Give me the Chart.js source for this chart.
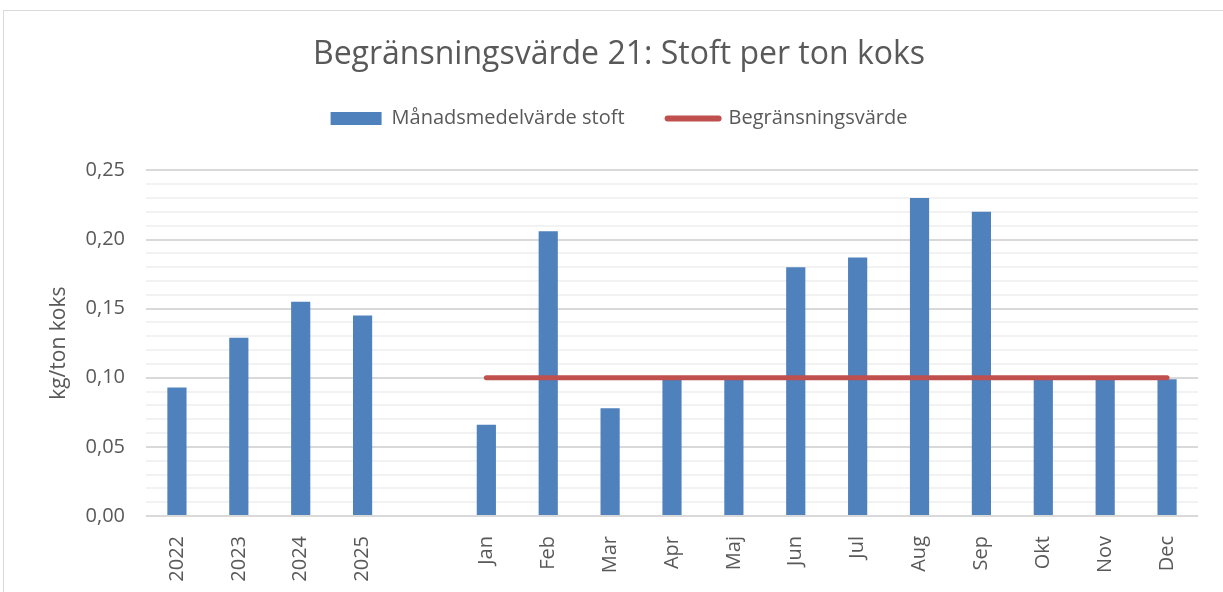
<!DOCTYPE html>
<html>
<head>
<meta charset="utf-8">
<script src="https://cdn.jsdelivr.net/npm/chart.js@4"></script>
<style>
  body { margin: 0; background: #fff; overflow: hidden; }
  #frame { position: absolute; left: 3px; top: 10px; width: 1400px; height: 800px; border: 1px solid #d9d9d9; }
  #chart { position: absolute; left: 0; top: 0; }
</style>
</head>
<body>
<div id="frame"></div>
<canvas id="chart" width="1223" height="592"></canvas>
<script>
const categories = ['2022', '2023', '2024', '2025', '', 'Jan', 'Feb', 'Mar', 'Apr', 'Maj', 'Jun', 'Jul', 'Aug', 'Sep', 'Okt', 'Nov', 'Dec'];
const stoft = [0.093, 0.129, 0.155, 0.145, null, 0.066, 0.206, 0.078, 0.099, 0.099, 0.18, 0.187, 0.23, 0.22, 0.099, 0.099, 0.099];
const limit = [null, null, null, null, null, 0.1, 0.1, 0.1, 0.1, 0.1, 0.1, 0.1, 0.1, 0.1, 0.1, 0.1, 0.1];
const majorTicks = [0, 0.05, 0.1, 0.15, 0.2, 0.25];

const blue = '#4f81bd';
const red = '#c0504d';
const textGray = '#595959';
const font = "'Open Sans', sans-serif";

const isMajor = (v) => majorTicks.some(m => Math.abs(m - v) < 1e-6);

new Chart(document.getElementById('chart'), {
  data: {
    labels: categories,
    datasets: [
      {
        type: 'bar',
        label: 'Månadsmedelvärde stoft',
        data: stoft,
        backgroundColor: blue,
        borderWidth: 0,
        barPercentage: 0.31,
        categoryPercentage: 1,
        order: 1
      },
      {
        type: 'line',
        label: 'Begränsningsvärde',
        data: limit,
        borderColor: red,
        backgroundColor: red,
        borderWidth: 5,
        borderCapStyle: 'round',
        pointRadius: 0,
        order: 0
      }
    ]
  },
  options: {
    responsive: false,
    animation: false,
    layout: { padding: { top: 10, left: 15, right: 0, bottom: 0 } },
    plugins: {
      title: {
        display: true,
        text: 'Begränsningsvärde 21: Stoft per ton koks',
        color: textGray,
        font: { family: font, size: 32, weight: 'normal' },
        padding: { top: 26, bottom: -9 }
      },
      subtitle: {
        // empty spacer between legend and plot
        display: true,
        text: '',
        weight: 500,
        font: { size: 10 },
        padding: { top: 20, bottom: 0 }
      },
      legend: {
        labels: {
          color: textGray,
          font: { family: font, size: 20 },
          usePointStyle: true,
          pointStyleWidth: 51,
          boxHeight: 13,
          padding: 43,
          sort: (a, b) => a.datasetIndex - b.datasetIndex,
          generateLabels(chart) {
            const items = Chart.defaults.plugins.legend.labels.generateLabels(chart);
            items.forEach(it => {
              if (it.datasetIndex === 1) {
                it.pointStyle = 'line';
                it.lineCap = 'round';
                it.strokeStyle = red;
                it.lineWidth = 6;
              } else {
                it.pointStyle = 'rect';
                it.fillStyle = blue;
                it.lineWidth = 0;
              }
            });
            return items;
          }
        }
      },
      tooltip: { enabled: false }
    },
    scales: {
      x: {
        grid: { display: false },
        border: { display: false },
        ticks: {
          color: textGray,
          font: { family: font, size: 20 },
          autoSkip: false,
          minRotation: 90,
          maxRotation: 90,
          padding: 12
        },
        afterFit(s) { s.height = 76; }
      },
      y: {
        min: 0,
        max: 0.25,
        border: { display: false },
        grid: {
          drawTicks: false,
          lineWidth: 2,
          color: (ctx) => isMajor(ctx.tick.value) ? '#d9d9d9' : '#f2f2f2'
        },
        ticks: {
          stepSize: 0.01,
          autoSkip: false,
          color: textGray,
          font: { family: font, size: 20 },
          padding: 21,
          callback: (v) => isMajor(v) ? v.toFixed(2).replace('.', ',') : ''
        },
        title: {
          display: true,
          text: 'kg/ton koks',
          color: textGray,
          font: { family: font, size: 21 },
          padding: { top: 31, bottom: 0 }
        },
        afterFit(s) { s.width = 131; }
      },
      y1: {
        position: 'right',
        grid: { display: false },
        border: { display: false },
        ticks: { display: false },
        afterFit(s) { s.width = 25; }
      }
    }
  }
});
</script>
</body>
</html>
